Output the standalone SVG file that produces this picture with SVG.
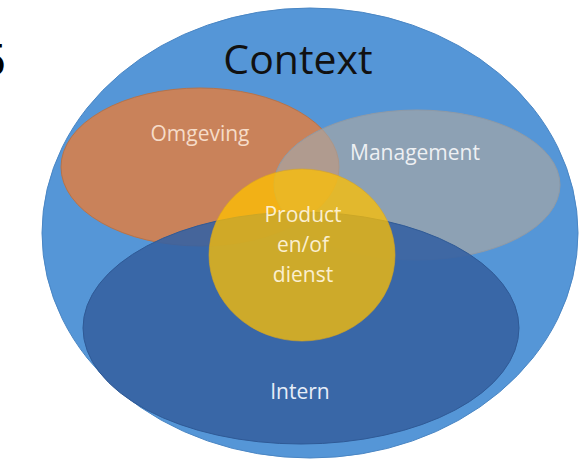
<svg xmlns="http://www.w3.org/2000/svg" width="582" height="465" viewBox="0 0 582 465">
  <style>
    .lbl { font-family: "Open Sans", "Noto Sans", "Liberation Sans", sans-serif; font-size: 21px; text-anchor: middle; }
    .edge { stroke-width: 1; }
  </style>
  <rect width="582" height="465" fill="#ffffff"/>
  <text x="-20" y="76" font-family="Liberation Sans, sans-serif" font-size="46" fill="#000000">5</text>
  <g id="context">
    <ellipse cx="310" cy="233" rx="268" ry="225" fill="#5596d7" stroke="#4a86c4" class="edge"/>
    <text x="298" y="74" font-family="Open Sans, Noto Sans, sans-serif" font-size="41" text-anchor="middle" fill="#111111">Context</text>
  </g>
  <g id="omgeving">
    <ellipse cx="200" cy="167" rx="139" ry="79" fill="#c9825a" stroke="#b87348" class="edge"/>
    <text x="200" y="141" class="lbl" fill="#f6dcc8">Omgeving</text>
  </g>
  <g id="management">
    <ellipse cx="417" cy="185" rx="143" ry="75" fill="#a5a5a5" fill-opacity="0.7" stroke="#8f9aa6" class="edge"/>
    <text x="415" y="160" class="lbl" fill="#eef0f3">Management</text>
  </g>
  <g id="intern">
    <ellipse cx="301" cy="328" rx="218" ry="116" fill="#3662a2" fill-opacity="0.9" stroke="#2f5a96" class="edge"/>
    <text x="300" y="399" class="lbl" fill="#e6edf7">Intern</text>
  </g>
  <g id="product">
    <ellipse cx="302" cy="255" rx="93" ry="86" fill="#ffc000" fill-opacity="0.75" stroke="#d9a520" stroke-opacity="0.6" class="edge"/>
    <text class="lbl" fill="#fbefcf"><tspan x="303" y="222">Product</tspan><tspan x="303" y="252">en/of</tspan><tspan x="303" y="282">dienst</tspan></text>
  </g>
  <g id="connectors"/>
</svg>
